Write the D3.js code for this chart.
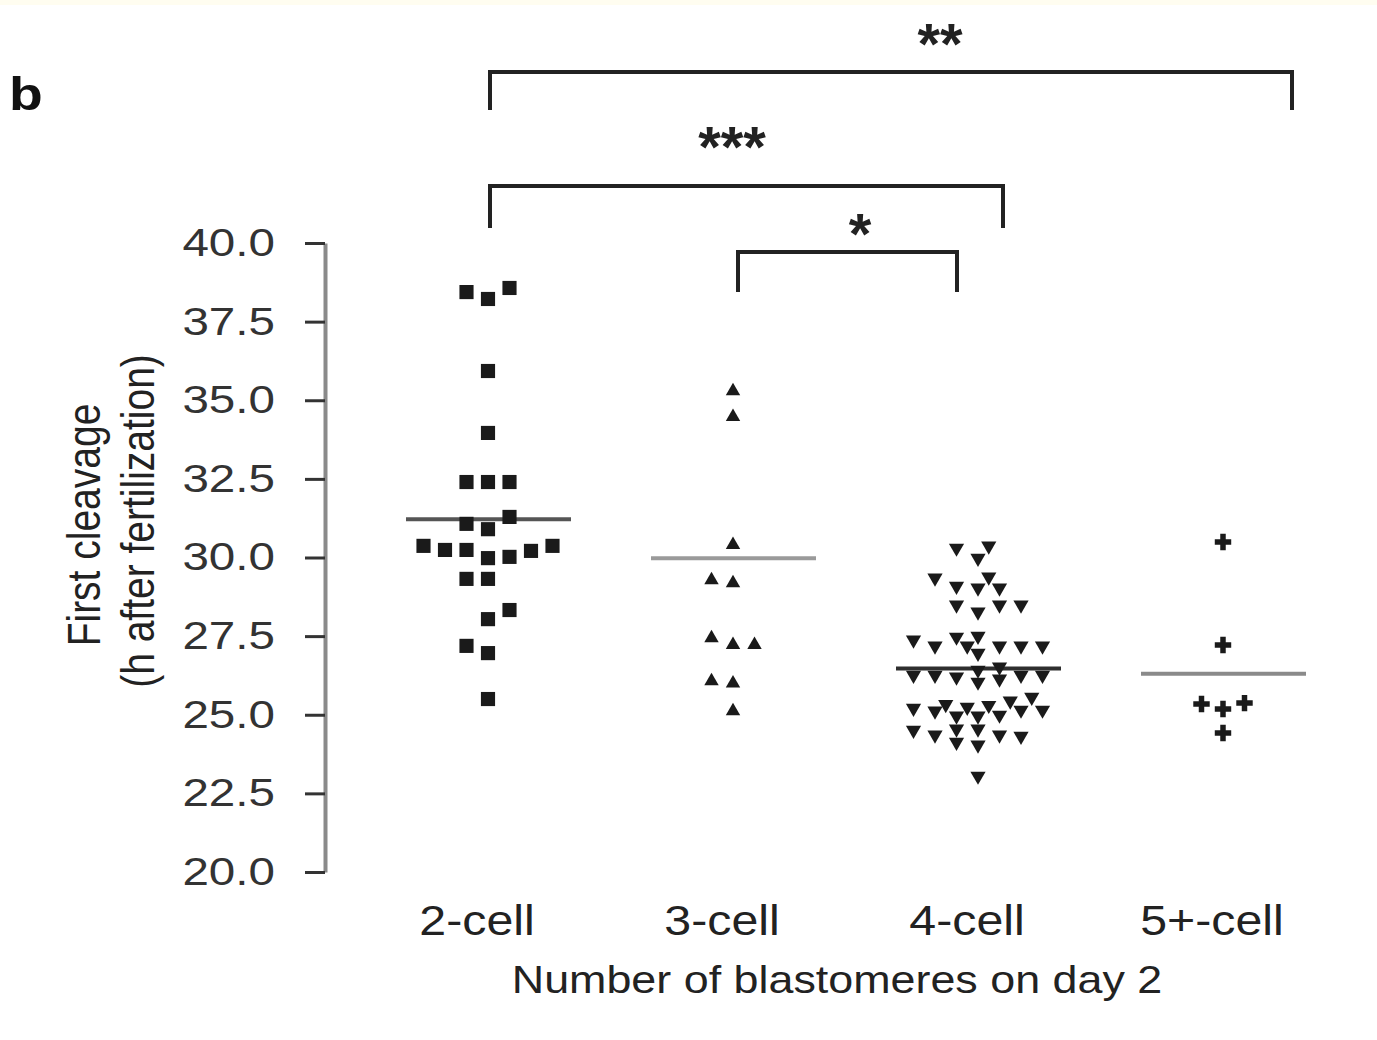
<!DOCTYPE html>
<html>
<head>
<meta charset="utf-8">
<script src="https://cdn.jsdelivr.net/npm/d3@7"></script>
<style>
  body { margin: 0; background: #fff; }
  svg { display: block; font-family: 'Liberation Sans', Arial, sans-serif; }
</style>
</head>
<body>
<div id="chart"></div>
<script>
const width = 1377
const height = 1040

// groups on the x axis
const categories = ['2-cell', '3-cell', '4-cell', '5+-cell']

// first cleavage time (h after fertilization), one value per embryo
const twoCell = [38.22, 38.44, 38.57, 35.93, 33.96, 32.40, 32.40, 32.40, 30.90, 31.07, 31.29,
  29.98, 30.02, 30.24, 30.24, 30.21, 30.37, 30.37, 29.32, 29.32, 28.04, 28.33, 26.96, 27.19, 25.50]
const threeCell = [35.29, 34.47, 30.40, 29.19, 29.28, 27.22, 27.22, 27.44, 26.00, 26.07, 25.12]
const fourCell = [29.98, 30.30, 30.37,
  29.03, 29.03, 29.09, 29.38, 29.35,
  28.27, 28.49, 28.49, 28.49,
  26.96, 27.50, 27.47, 27.19, 27.19, 27.19, 27.38, 27.19, 27.19,
  26.04, 26.20, 26.14, 26.26, 26.26, 26.26, 26.26, 26.42, 26.52,
  24.96, 24.96, 24.99, 25.12, 25.15, 25.21, 25.15,
  25.24, 25.30, 25.33, 25.44, 25.56,
  24.04, 24.13, 24.36, 24.36, 24.32, 24.55, 24.55, 24.51,
  23.05]
const fivePlusCell = [30.49, 27.22, 25.18, 25.34, 25.37, 24.42]

// horizontal lines as drawn in the figure
const groupMeans = [31.22, 29.98, 26.47, 26.30]

const yTicks = [20, 22.5, 25, 27.5, 30, 32.5, 35, 37.5, 40]

// significance brackets
const compFrom = ['2-cell', '2-cell', '3-cell']
const compTo = ['5+-cell', '4-cell', '4-cell']
const compLabels = ['**', '***', '*']

// ---- layout / style ----
const groups = [twoCell, threeCell, fourCell, fivePlusCell]
const symbols = [d3.symbolSquare, d3.symbolTriangle, d3.symbolTriangle, d3.symbolCross]
const symbolSizes = [200, 90, 100, 150]
const symbolRotate = [0, 0, 180, 0]
const swarmRy = [16, 12, 12.5, 13]
const meanColors = ['#555', '#9a9a9a', '#2e2e2e', '#8a8a8a']
const bracketY = [72, 186, 252]
const bracketLeg = [38, 42, 40]
const bracketEnds = [[2, 69], [2, 25], [5, -21]]
const starX = [940, 732, 860]
const starY = [64, 167, 254]
const step = 21.5
const rx = 21
const maxSlot = 3

const svg = d3.select('#chart')
  .append('svg')
  .attr('width', width)
  .attr('height', height)

svg.append('rect').attr('width', width).attr('height', height).attr('fill', '#fff')
svg.append('rect').attr('width', width).attr('height', 5).attr('fill', '#fffdf0')

const y = d3.scaleLinear().domain([20, 40]).range([872, 243])
const x = d3.scalePoint().domain(categories).range([488, 1223])

// dot-plot layout: each point goes to the nearest free column slot,
// or the least crowded one if the row is full
function swarm (values, cx, ry) {
  const placed = []
  values.forEach((v) => {
    const py = y(v)
    const gap = (o) => d3.min(placed, (p) => ((p.o - o) * step / rx) ** 2 + ((p.y - py) / ry) ** 2) ?? Infinity
    const room = (o) => d3.min(placed.filter((p) => Math.abs(p.o - o) <= 0.5), (p) => Math.abs(p.y - py)) ?? Infinity
    let chosen = null
    let best = { o: 0, g: -1 }
    for (let k = 0; k <= maxSlot; k += 0.5) {
      const cands = k === 0 ? [0] : [-k, k]
      cands.forEach((o) => {
        const g = gap(o)
        if (g > best.g + 0.01) best = { o, g }
      })
      const free = cands.filter((o) => gap(o) >= 1)
      if (free.length) {
        chosen = free.length === 2 && room(k) > room(-k) + 1 ? k : free[0]
        break
      }
    }
    if (chosen === null) chosen = best.o
    placed.push({ v, o: chosen, y: py })
  })
  return placed.map((p) => ({ value: p.v, x: cx + p.o * step, y: p.y }))
}

// y axis
const yAxis = d3.axisLeft(y)
  .tickValues(yTicks)
  .tickFormat(d3.format('.1f'))
  .tickSize(20)
  .tickSizeOuter(0)

const axisG = svg.append('g')
  .attr('transform', 'translate(325,0)')
  .call(yAxis)

axisG.select('.domain').attr('stroke', '#8a8a8a').attr('stroke-width', 4)
axisG.selectAll('.tick line').attr('stroke', '#333').attr('stroke-width', 3)
axisG.selectAll('.tick text')
  .attr('x', null)
  .attr('transform', 'translate(-50,0) scale(1.22,1)')
  .attr('font-size', 39)
  .attr('font-family', 'Liberation Sans, Arial, sans-serif')
  .attr('fill', '#333')

// y axis title
const yTitle = svg.append('g').attr('fill', '#222').attr('font-size', 39).attr('text-anchor', 'middle')
yTitle.append('text')
  .attr('transform', 'translate(100,525) scale(1.2,1) rotate(-90)')
  .text('First cleavage')
yTitle.append('text')
  .attr('transform', 'translate(154,521) scale(1.2,1) rotate(-90)')
  .text('(h after fertilization)')

// x labels
svg.append('g')
  .selectAll('text')
  .data(categories)
  .enter()
  .append('text')
  .attr('transform', (d) => `translate(${x(d) - 11},935) scale(1.15,1)`)
  .attr('text-anchor', 'middle')
  .attr('font-size', 42)
  .attr('fill', '#222')
  .text((d) => d)

svg.append('text')
  .attr('transform', 'translate(837,993) scale(1.15,1)')
  .attr('text-anchor', 'middle')
  .attr('font-size', 39)
  .attr('fill', '#222')
  .text('Number of blastomeres on day 2')

// panel letter
svg.append('text')
  .attr('transform', 'translate(9,110) scale(1.2,1)')
  .attr('font-size', 46)
  .attr('font-weight', 'bold')
  .attr('fill', '#111')
  .text('b')

// mean lines
svg.append('g')
  .selectAll('line')
  .data(categories)
  .enter()
  .append('line')
  .attr('x1', (d) => x(d) - 82)
  .attr('x2', (d) => x(d) + 83)
  .attr('y1', (d, i) => y(groupMeans[i]))
  .attr('y2', (d, i) => y(groupMeans[i]))
  .attr('stroke', (d, i) => meanColors[i])
  .attr('stroke-width', 4)

// points
categories.forEach((cat, i) => {
  const pts = swarm(groups[i], x(cat), swarmRy[i])
  svg.append('g')
    .attr('class', 'points')
    .selectAll('path')
    .data(pts)
    .enter()
    .append('path')
    .attr('d', d3.symbol().type(symbols[i]).size(symbolSizes[i]))
    .attr('transform', (d) => `translate(${d.x},${d.y}) rotate(${symbolRotate[i]})`)
    .attr('fill', '#1a1a1a')
})

// significance brackets
const br = svg.append('g')
compLabels.forEach((lab, i) => {
  const x1 = x(compFrom[i]) + bracketEnds[i][0]
  const x2 = x(compTo[i]) + bracketEnds[i][1]
  const by = bracketY[i]
  br.append('path')
    .attr('d', `M${x1},${by + bracketLeg[i]}V${by}H${x2}V${by + bracketLeg[i]}`)
    .attr('fill', 'none')
    .attr('stroke', '#222')
    .attr('stroke-width', 4)
  br.append('text')
    .attr('x', starX[i])
    .attr('y', starY[i])
    .attr('text-anchor', 'middle')
    .attr('font-size', 58)
    .attr('font-weight', 'bold')
    .attr('fill', '#222')
    .text(lab)
})
</script>
</body>
</html>
